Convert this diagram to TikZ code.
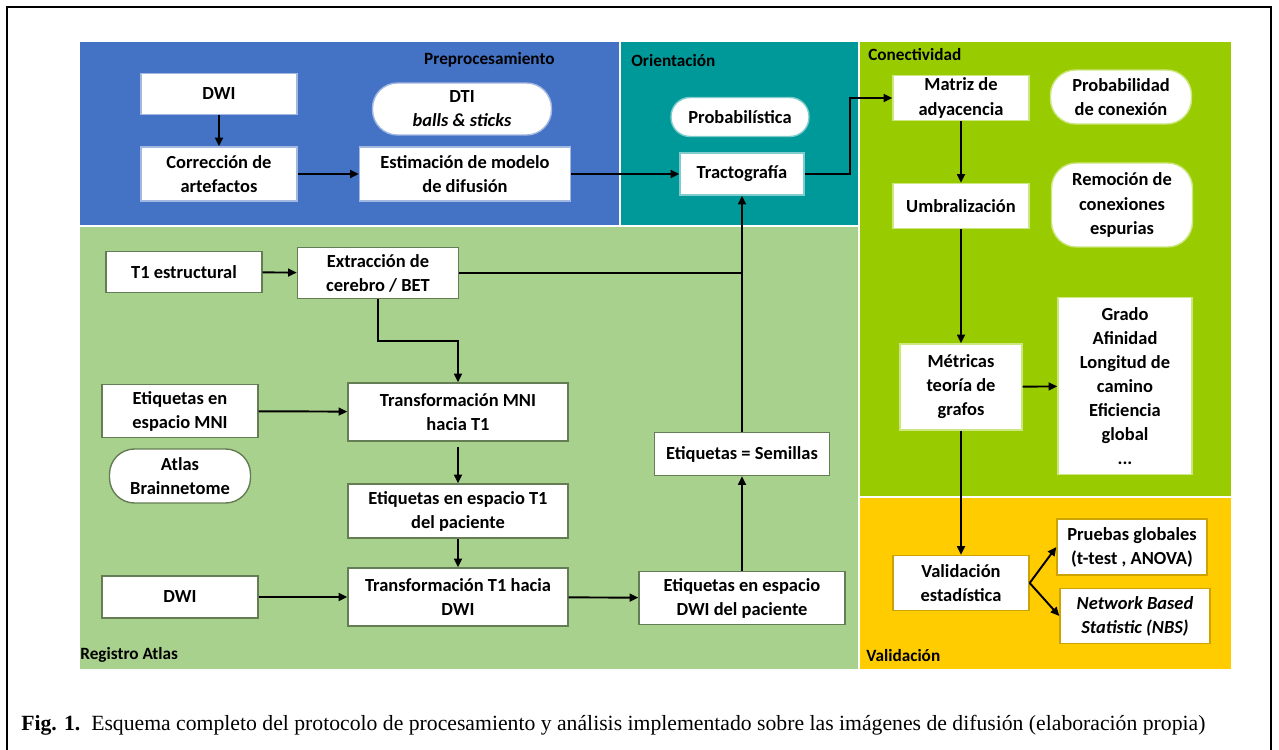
\documentclass[tikz,border=0pt]{standalone}
\usepackage{fontspec}
\setmainfont{Liberation Serif}
\newfontfamily\calibri{Carlito}
\definecolor{prepblue}{RGB}{68, 114, 196}
\definecolor{orientteal}{RGB}{0, 153, 153}
\definecolor{atlasgreen}{RGB}{169, 209, 142}
\definecolor{conecgreen}{RGB}{153, 204, 0}
\definecolor{validyellow}{RGB}{255, 204, 0}
\usepackage{tikz}
\usetikzlibrary{arrows.meta, positioning, calc, shapes.misc}

\begin{document}
\begin{tikzpicture}[x=0.02cm, y=-0.02cm,
    procbox/.style={draw=#1, fill=white, line width=0.8pt, align=center, inner sep=1pt,
                    font=\calibri\bfseries\fontsize{10.5}{13.7}\selectfont},
    oval/.style={procbox=#1, rounded corners=0.5cm},
    panellabel/.style={font=\calibri\bfseries\fontsize{9.8}{11}\selectfont, inner sep=0pt},
    arr/.style={-{Triangle[length=5pt, width=4.5pt]}, line width=1.1pt},
    plainline/.style={line width=1.1pt}]
    \useasboundingbox (0,0) rectangle (1279,750);
    \clip (0,0) rectangle (1279,750);
    % outer frame
    \draw[line width=1.3pt] (7,7) rectangle (1271,770);
    % coloured panels
    \foreach \xa/\ya/\xb/\yb/\col in {
        79/41/620/226/prepblue,
        620/41/859/226/orientteal,
        79/226/859/670/atlasgreen,
        859/41/1232/497/conecgreen,
        859/497/1232/670/validyellow} {
        \filldraw[fill=\col, draw=white, line width=0.6pt] (\xa,\ya) rectangle (\xb,\yb);
    }
    \node[panellabel, anchor=east] (lprep) at (555,60) {Preprocesamiento};
    \node[panellabel, anchor=west] (lorient) at (631,61) {Orientación};
    \node[panellabel, anchor=west] (lconec) at (868,55) {Conectividad};
    \node[panellabel, anchor=west] (lvalid) at (866,656) {Validación};
    \node[panellabel, anchor=west] (latlas) at (80,655) {Registro Atlas};

    % preprocesamiento
    \node[procbox=prepblue!50!white, minimum width=3.12cm, minimum height=0.82cm] (dwia) at (219,94) {DWI};
    \node[procbox=prepblue!50!white, minimum width=3.12cm, minimum height=1.08cm] (correccion) at (219,174) {Corrección de\\artefactos};
    \node[oval=prepblue!50!white, minimum width=3.58cm, minimum height=1.04cm] (dti) at (462,109) {DTI\\\textit{balls \& sticks}};
    \node[procbox=prepblue!50!white, minimum width=4.22cm, minimum height=1.08cm] (estimacion) at (465,174) {Estimación de modelo\\de difusión};

    % orientacion
    \node[oval=orientteal!50!white, rounded corners=0.38cm, minimum width=2.76cm, minimum height=0.78cm] (probab) at (740,117) {Probabilística};
    \node[procbox=orientteal!50!white, minimum width=2.48cm, minimum height=0.84cm] (tracto) at (742,174) {Tractografía};

    % conectividad
    \node[procbox=conecgreen!50!white, minimum width=2.72cm, minimum height=0.9cm] (matriz) at (961,98) {Matriz de\\adyacencia};
    \node[oval=conecgreen!50!white, minimum width=2.82cm, minimum height=1.08cm] (probcon) at (1121,97) {Probabilidad\\de conexión};
    \node[procbox=conecgreen!50!white, minimum width=2.72cm, minimum height=0.9cm] (umbral) at (961,206) {Umbralización};
    \node[oval=conecgreen!50!white, minimum width=2.82cm, minimum height=1.68cm] (remocion) at (1122,205) {Remoción de\\conexiones\\espurias};
    \node[procbox=conecgreen!50!white, minimum width=2.44cm, minimum height=1.72cm] (metricas) at (961,387) {Métricas\\teoría de\\grafos};
    \node[procbox=conecgreen!50!white, minimum width=2.68cm, minimum height=3.54cm] (grado) at (1125,386) {Grado\\Afinidad\\Longitud de\\camino\\Eficiencia\\global\\...};

    % validacion
    \node[procbox=validyellow!80!black, minimum width=2.72cm, minimum height=1.1cm] (validest) at (961,583) {Validación\\estadística};
    \node[procbox=validyellow!80!black, minimum width=3.0cm, minimum height=1.12cm] (pruebas) at (1132,547) {Pruebas globales\\(t-test , ANOVA)};
    \node[procbox=validyellow!80!black, minimum width=3.0cm, minimum height=1.1cm] (nbs) at (1135,616) {\textit{Network Based}\\\textit{Statistic (NBS)}};

    % registro atlas
    \node[procbox=atlasgreen!60!black, minimum width=3.12cm, minimum height=0.82cm] (t1) at (184,272) {T1 estructural};
    \node[procbox=atlasgreen!60!black, minimum width=3.22cm, minimum height=1.02cm] (extraccion) at (378,273) {Extracción de\\cerebro / BET};
    \node[procbox=atlasgreen!60!black, minimum width=3.12cm, minimum height=1.06cm] (etiqmni) at (180,411) {Etiquetas en\\espacio MNI};
    \node[procbox=atlasgreen!60!black, minimum width=4.4cm, minimum height=1.16cm] (transmni) at (458,412) {Transformación MNI\\hacia T1};
    \node[oval=atlasgreen!60!black, minimum width=2.82cm, minimum height=1.08cm] (atlas) at (180,476) {Atlas\\Brainnetome};
    \node[procbox=atlasgreen!60!black, minimum width=4.4cm, minimum height=1.08cm] (etiqt1) at (458,511) {Etiquetas en espacio T1\\del paciente};
    \node[procbox=atlasgreen!60!black, minimum width=3.5cm, minimum height=0.86cm] (semillas) at (742,454) {Etiquetas = Semillas};
    \node[procbox=atlasgreen!60!black, minimum width=3.12cm, minimum height=0.84cm] (dwib) at (180,597) {DWI};
    \node[procbox=atlasgreen!60!black, minimum width=4.4cm, minimum height=1.16cm] (transt1) at (458,597) {Transformación T1 hacia\\DWI};
    \node[procbox=atlasgreen!60!black, minimum width=4.12cm, minimum height=1.06cm] (etiqdwi) at (742,598) {Etiquetas en espacio\\DWI del paciente};

    % connectors
    \draw[arr] (dwia) -- (correccion);
    \draw[arr] (correccion) -- (estimacion);
    \draw[arr] (estimacion) -- (tracto);
    \draw[arr] (tracto.east) -- ++(45,0) |- (matriz.west);
    \draw[arr] (matriz) -- (umbral);
    \draw[arr] (umbral) -- (metricas);
    \draw[arr] (metricas) -- (grado);
    \draw[arr] (metricas) -- (validest);
    \draw[arr] (validest.east) -- (pruebas.west);
    \draw[arr] (validest.east) -- (nbs.west);
    \draw[arr] (t1) -- (extraccion);
    \draw[plainline] (extraccion.east) -- (extraccion.east -| semillas.north);
    \draw[arr] (extraccion.south) -- ++(0,42) -| (transmni.north);
    \draw[arr] (etiqmni) -- (transmni);
    \draw[arr, shorten <=3pt] (transmni) -- (etiqt1);
    \draw[arr] (etiqt1) -- (transt1);
    \draw[arr] (dwib) -- (transt1);
    \draw[arr] (transt1) -- (etiqdwi);
    \draw[arr] (etiqdwi) -- (semillas);
    \draw[arr] (semillas) -- (tracto);

    % caption
    \node[anchor=west, font=\fontsize{12.35}{14}\selectfont, inner sep=0pt] (caption) at (21,725)
        {\textbf{Fig. 1.}\ \ Esquema completo del protocolo de procesamiento y análisis implementado sobre las imágenes de difusión (elaboración propia)};
\end{tikzpicture}
\end{document}
